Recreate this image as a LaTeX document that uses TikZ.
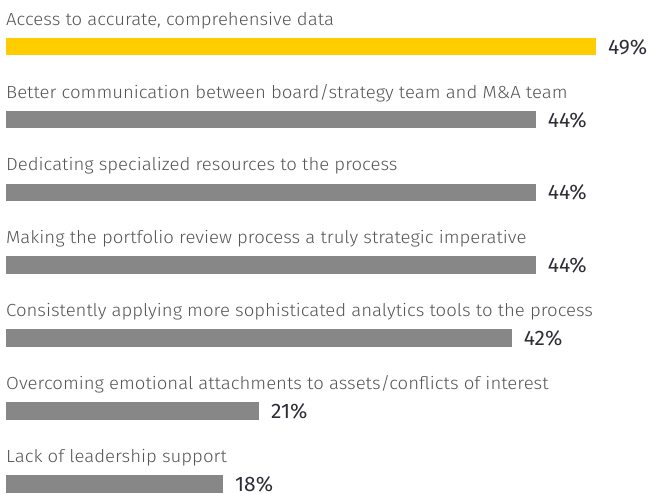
\documentclass[tikz,border=0pt]{standalone}
\usepackage{fontspec}
\setmainfont{Fira Sans}
\newfontfamily\lightfont[FakeStretch=1.06]{Fira Sans Light}
\definecolor{eyyellow}{HTML}{FFCC00}
\definecolor{bargray}{HTML}{878787}
\definecolor{labelgray}{HTML}{555555}
\definecolor{pctdark}{HTML}{2E2E38}
\begin{document}
\begin{tikzpicture}[x=1pt,y=-1pt,
  lbl/.style={anchor=base west, inner sep=0pt, text=labelgray, font=\lightfont\fontsize{17.5}{20}\selectfont},
  barbox/.style={anchor=north west, inner sep=0pt, minimum height=17.6pt, fill=bargray},
  pct/.style={anchor=base west, inner sep=0pt, xshift=12pt, yshift=1.5pt, text=pctdark, font=\fontsize{21}{24}\selectfont}]
\useasboundingbox (0,0) rectangle (660,494);
% row 1
\node[lbl] (l1) at (6,25.3) {Access to accurate, comprehensive data};
\node[barbox, fill=eyyellow, minimum width=589.5pt] (b1) at (6,37.7) {};
\node[pct] (p1) at (b1.south east) {49\%};
% row 2
\node[lbl] (l2) at (6,98.15) {Better communication between board/strategy team and M\&A team};
\node[barbox, minimum width=529.3pt] (b2) at (6,110.55) {};
\node[pct] (p2) at (b2.south east) {44\%};
% row 3
\node[lbl] (l3) at (6,171.0) {Dedicating specialized resources to the process};
\node[barbox, minimum width=529.3pt] (b3) at (6,183.4) {};
\node[pct] (p3) at (b3.south east) {44\%};
% row 4
\node[lbl] (l4) at (6,243.85) {Making the portfolio review process a truly strategic imperative};
\node[barbox, minimum width=529.3pt] (b4) at (6,256.25) {};
\node[pct] (p4) at (b4.south east) {44\%};
% row 5
\node[lbl] (l5) at (6,316.7) {Consistently applying more sophisticated analytics tools to the process};
\node[barbox, minimum width=505.3pt] (b5) at (6,329.1) {};
\node[pct] (p5) at (b5.south east) {42\%};
% row 6
\node[lbl] (l6) at (6,389.55) {Overcoming emotional attachments to assets/conflicts of interest};
\node[barbox, minimum width=252.6pt] (b6) at (6,401.95) {};
\node[pct] (p6) at (b6.south east) {21\%};
% row 7
\node[lbl] (l7) at (6,462.4) {Lack of leadership support};
\node[barbox, minimum width=216.5pt] (b7) at (6,474.8) {};
\node[pct] (p7) at (b7.south east) {18\%};
\end{tikzpicture}
\end{document}
